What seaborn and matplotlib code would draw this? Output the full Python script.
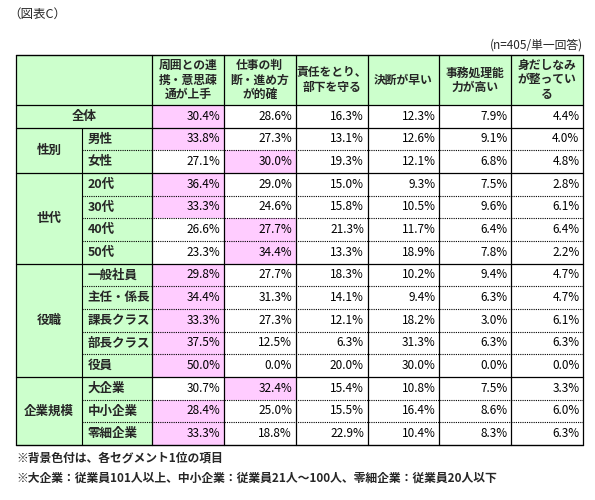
import numpy as np
import pandas as pd
import seaborn as sns
import matplotlib
matplotlib.use("Agg")
import matplotlib.pyplot as plt
from matplotlib.colors import ListedColormap
from matplotlib.patches import Rectangle

sns.set_theme(style="white")
plt.rcParams['font.family'] = ['Noto Sans CJK JP', 'DejaVu Sans']

columns = ["周囲との連\n携・意思疎\n通が上手", "仕事の判\n断・進め方\nが的確", "責任をとり、\n部下を守る",
           "決断が早い", "事務処理能\n力が高い", "身だしなみ\nが整ってい\nる"]
groups = [("全体", 1), ("性別", 2), ("世代", 4), ("役職", 5), ("企業規模", 3)]
rows = ["全体", "男性", "女性", "20代", "30代", "40代", "50代",
        "一般社員", "主任・係長", "課長クラス", "部長クラス", "役員",
        "大企業", "中小企業", "零細企業"]
v_renkei = [30.4, 33.8, 27.1, 36.4, 33.3, 26.6, 23.3, 29.8, 34.4, 33.3, 37.5, 50.0, 30.7, 28.4, 33.3]
v_handan = [28.6, 27.3, 30.0, 29.0, 24.6, 27.7, 34.4, 27.7, 31.3, 27.3, 12.5, 0.0, 32.4, 25.0, 18.8]
v_sekinin = [16.3, 13.1, 19.3, 15.0, 15.8, 21.3, 13.3, 18.3, 14.1, 12.1, 6.3, 20.0, 15.4, 15.5, 22.9]
v_ketsudan = [12.3, 12.6, 12.1, 9.3, 10.5, 11.7, 18.9, 10.2, 9.4, 18.2, 31.3, 30.0, 10.8, 16.4, 10.4]
v_jimu = [7.9, 9.1, 6.8, 7.5, 9.6, 6.4, 7.8, 9.4, 6.3, 3.0, 6.3, 0.0, 7.5, 8.6, 8.3]
v_midashi = [4.4, 4.0, 4.8, 2.8, 6.1, 6.4, 2.2, 4.7, 4.7, 6.1, 6.3, 0.0, 3.3, 6.0, 6.3]

df = pd.DataFrame({c: v for c, v in zip(columns, [v_renkei, v_handan, v_sekinin, v_ketsudan, v_jimu, v_midashi])}, index=rows)
vals = df.values
mask = (vals == vals.max(axis=1, keepdims=True)).astype(float)
annot = np.array([[f"{x:.1f}%" for x in r] for r in vals])

GREEN = "#CCFFCC"
PINK = "#FFCCFF"
W, H = 595, 500
fig = plt.figure(figsize=(W/100, H/100), dpi=100)
x0, x1, y0, y1 = 152, 583, 105, 445
ax = fig.add_axes([x0/W, 1-y1/H, (x1-x0)/W, (y1-y0)/H])
sns.heatmap(mask, cmap=ListedColormap(["white", PINK]), vmin=0, vmax=1, cbar=False,
            annot=annot, fmt="", annot_kws={"fontsize": 8.5, "color": "black", "ha": "right"},
            ax=ax, linewidths=0)
for t in ax.texts:
    x, y = t.get_position()
    t.set_position((x + 0.45, y))
ax.set_xticks([]); ax.set_yticks([])
for s in ax.spines.values():
    s.set_visible(False)

colw = (x1-x0)/6
rowh = (y1-y0)/15
lx0 = -(x0-16)/colw
lx1 = -(x0-82)/colw
hy = -(y0-55)/rowh
kw = dict(clip_on=False)
lc = "black"
# header
ax.add_patch(Rectangle((lx0, hy), -lx0+6, -hy, facecolor=GREEN, edgecolor="none", **kw))
for j, c in enumerate(columns):
    ax.text(j+0.5, hy/2, c, ha="center", va="center", fontsize=8.5, linespacing=1.15, fontweight="bold", **kw)
# label area
ax.add_patch(Rectangle((lx0, 0), -lx0, 15, facecolor=GREEN, edgecolor="none", **kw))
r = 0
for g, n in groups:
    if n == 1:
        ax.text(lx0/2, r+0.5, g, ha="center", va="center", fontsize=9, fontweight="bold", **kw)
    else:
        ax.text((lx0+lx1)/2, r+n/2, g, ha="center", va="center", fontsize=9, fontweight="bold", **kw)
        for k in range(n):
            ax.text(lx1+0.08, r+k+0.5, rows[r+k], ha="left", va="center", fontsize=9, fontweight="bold", **kw)
            if k > 0:
                ax.plot([lx1, 6], [r+k, r+k], color=lc, lw=0.8, ls=(0, (1, 1)), **kw)
        ax.plot([lx1, lx1], [r, r+n], color=lc, lw=0.8, **kw)
    ax.plot([lx0, 6], [r, r], color=lc, lw=0.9, **kw)
    r += n
ax.plot([lx0, 6], [15, 15], color=lc, lw=1, **kw)
ax.plot([lx0, 6], [hy, hy], color=lc, lw=1, **kw)
for xv in [lx0] + list(range(7)):
    ax.plot([xv, xv], [hy, 15], color=lc, lw=0.9, **kw)

fig.text(8/W, 1-14/H, "（図表C）", fontsize=9, va="center", ha="left")
fig.text(583/W, 1-45/H, "(n=405/単一回答)", fontsize=8.5, va="center", ha="right")
fig.text(16/W, 1-458/H, "※背景色付は、各セグメント1位の項目", fontsize=8.5, va="center", ha="left", fontweight="bold")
fig.text(16/W, 1-478/H, "※大企業：従業員101人以上、中小企業：従業員21人～100人、零細企業：従業員20人以下",
         fontsize=8.5, va="center", ha="left", fontweight="bold")
fig.savefig("out.png", dpi=100, facecolor="white")
